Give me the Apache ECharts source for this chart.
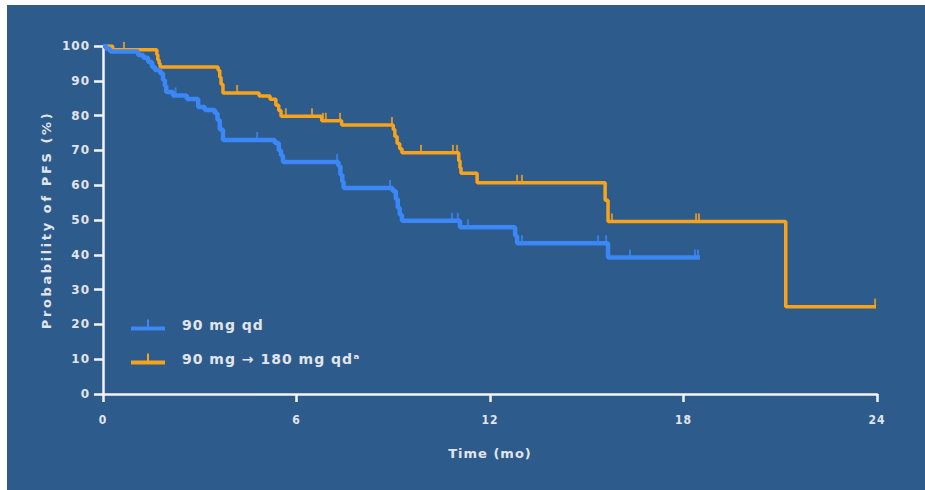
<!DOCTYPE html>
<html>
<head>
<meta charset="utf-8">
<script src="https://cdn.jsdelivr.net/npm/echarts@6/dist/echarts.min.js"></script>
<style>
  html, body { margin: 0; padding: 0; background: #ffffff; }
  #chart { width: 925px; height: 490px; }
  #chart text { letter-spacing: 1px; }
</style>
</head>
<body>
<div id="chart"></div>
<script>
// Kaplan-Meier step points [time (mo), PFS %]
const blueName = '90 mg qd';
const orangeName = '90 mg \u2192 180 mg qd\u1d43';

const blueSteps = [
  [0, 100], [0.1, 99.2], [0.22, 98.4], [1.09, 97.4], [1.25, 96.6], [1.4, 95.4],
  [1.52, 94.0], [1.61, 93.1], [1.77, 92.2], [1.86, 90.2], [1.92, 88.5], [1.96, 86.8],
  [2.17, 85.8], [2.6, 84.8], [2.95, 82.5], [3.16, 81.6], [3.47, 80.7], [3.55, 78.7],
  [3.62, 76.0], [3.72, 73.0], [5.33, 72.1], [5.45, 70.0], [5.52, 68.5], [5.58, 66.7],
  [7.3, 65.5], [7.36, 63.0], [7.42, 61.0], [7.46, 59.2], [8.98, 58.3], [9.08, 56.0],
  [9.14, 53.5], [9.2, 51.5], [9.27, 49.8], [11.07, 47.9], [12.78, 45.5], [12.84, 43.3],
  [15.66, 39.2], [18.51, 39.2]
];

const orangeSteps = [
  [0, 100], [0.3, 98.9], [1.67, 97.5], [1.7, 96.0], [1.74, 95.0], [1.77, 94.0],
  [3.57, 93.0], [3.62, 91.0], [3.66, 89.0], [3.72, 86.5], [4.84, 85.6], [5.18, 84.7],
  [5.36, 83.0], [5.45, 81.5], [5.52, 79.8], [6.78, 78.5], [7.4, 77.3], [9.0, 76.0],
  [9.05, 74.0], [9.12, 72.0], [9.2, 70.5], [9.27, 69.3], [11.03, 67.0], [11.07, 65.0],
  [11.1, 63.4], [11.6, 60.7], [15.57, 55.7], [15.66, 49.6], [21.17, 25.1], [23.97, 25.1]
];

// censored observations [time, PFS %]
const blueCensor = [
  [2.25, 85.8], [4.78, 73.0], [7.26, 66.7], [8.9, 59.2], [10.82, 49.8], [11.0, 49.8],
  [11.32, 47.9], [12.99, 43.3], [15.35, 43.3], [15.6, 43.3], [16.34, 39.2],
  [18.36, 39.2], [18.45, 39.2]
];

const orangeCensor = [
  [0.65, 98.9], [4.16, 86.5], [5.67, 79.8], [6.48, 79.8], [6.82, 78.5], [6.91, 78.5],
  [7.35, 78.5], [8.96, 77.3], [9.86, 69.3], [10.85, 69.3], [10.98, 69.3],
  [12.84, 60.7], [12.99, 60.7], [15.78, 49.6], [18.39, 49.6], [18.48, 49.6], [23.94, 25.1]
];

const xTicks = [0, 6, 12, 18, 24];
const yTicks = [0, 10, 20, 30, 40, 50, 60, 70, 80, 90, 100];

const BLUE = '#3b87f5';
const ORANGE = '#f9a31b';
const BG = '#2d5b8b';
const AXIS = '#f4f4f4';
const TXT = '#e2e5ec';
const FONT = '"DejaVu Sans", sans-serif';

const chart = echarts.init(document.getElementById('chart'), null, { renderer: 'svg' });

const iconPath = 'path://M0,8L34,8L34,12L0,12Z M16,1L18,1L18,8L16,8Z';

chart.setOption({
  animation: false,
  backgroundColor: '#ffffff',
  graphic: [{
    type: 'rect', left: 7, top: 5, z: -10,
    shape: { width: 918, height: 485 },
    style: { fill: BG }
  }],
  grid: { left: 103, right: 48, top: 46, bottom: 96, containLabel: false },
  legend: {
    data: [blueName, orangeName],
    orient: 'vertical',
    left: 126, top: 313,
    itemWidth: 34, itemHeight: 12, itemGap: 20,
    icon: iconPath,
    textStyle: { color: TXT, fontFamily: FONT, fontWeight: 'bold', fontSize: 14, padding: [0, 0, 0, 12] }
  },
  xAxis: {
    type: 'value', min: 0, max: 24, interval: 6,
    name: 'Time (mo)', nameLocation: 'middle', nameGap: 53,
    nameTextStyle: { color: TXT, fontFamily: FONT, fontWeight: 'bold', fontSize: 13 },
    axisLine: { show: true, onZero: false, lineStyle: { color: AXIS, width: 2.5 } },
    axisTick: { show: true, length: 8, lineStyle: { color: AXIS, width: 2.5 } },
    axisLabel: {
      color: TXT, fontFamily: '"DejaVu Sans Condensed", "Liberation Sans Narrow", "DejaVu Sans", sans-serif',
      fontWeight: 'bold', fontSize: 12, margin: 20,
      formatter: v => xTicks.includes(v) ? String(v) : ''
    },
    splitLine: { show: false }
  },
  yAxis: {
    type: 'value', min: 0, max: 100, interval: 10,
    name: 'Probability of PFS (%)', nameLocation: 'middle', nameGap: 50,
    nameTextStyle: { color: TXT, fontFamily: FONT, fontWeight: 'bold', fontSize: 13 },
    axisLine: { show: true, onZero: false, lineStyle: { color: AXIS, width: 2.5 } },
    axisTick: { show: true, length: 9, lineStyle: { color: AXIS, width: 2.5 } },
    axisLabel: {
      color: TXT, fontFamily: FONT, fontWeight: 'bold', fontSize: 12, margin: 13,
      formatter: v => yTicks.includes(v) ? String(v) : ''
    },
    splitLine: { show: false }
  },
  series: [
    {
      name: orangeName, type: 'line', step: 'end', data: orangeSteps,
      symbol: 'none', showSymbol: false, z: 2,
      lineStyle: { color: ORANGE, width: 3.5 }, itemStyle: { color: ORANGE }
    },
    {
      name: blueName, type: 'line', step: 'end', data: blueSteps,
      symbol: 'none', showSymbol: false, z: 3,
      lineStyle: { color: BLUE, width: 4.5 }, itemStyle: { color: BLUE }
    },
    {
      name: 'orangeCensor', type: 'scatter', data: orangeCensor, z: 2,
      symbol: 'rect', symbolSize: [2, 8], symbolOffset: [0, -4],
      itemStyle: { color: ORANGE }
    },
    {
      name: 'blueCensor', type: 'scatter', data: blueCensor, z: 3,
      symbol: 'rect', symbolSize: [2, 8], symbolOffset: [0, -4],
      itemStyle: { color: BLUE }
    }
  ]
});

// wider letter spacing for the vertical axis title, as in the reference
document.querySelectorAll('#chart text').forEach(t => {
  if (t.textContent === 'Probability of PFS (%)') t.style.letterSpacing = '2.6px';
  if (t.textContent === orangeName) t.style.fontSize = '14px';
});
</script>
</body>
</html>
